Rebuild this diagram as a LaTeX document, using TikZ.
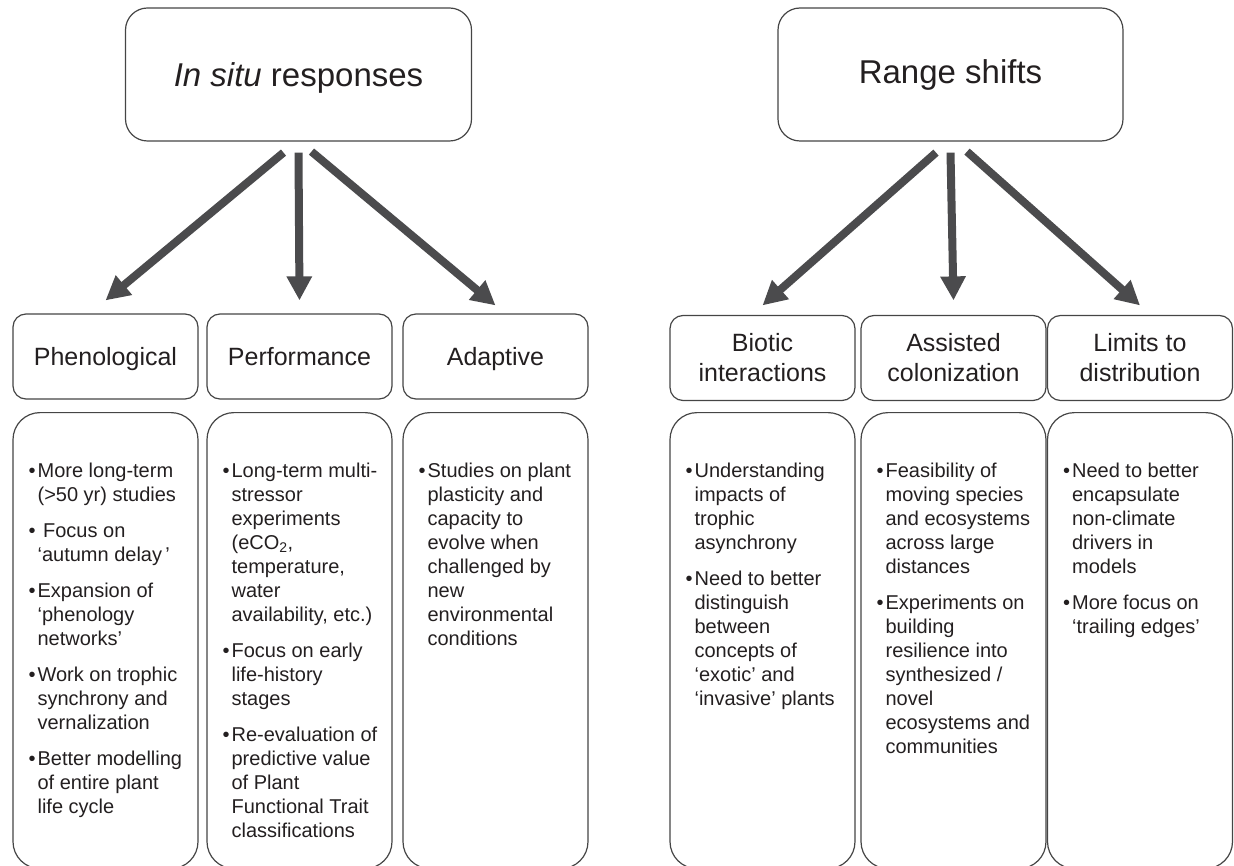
\documentclass[tikz,border=0pt]{standalone}
\usepackage{fontspec}
\setmainfont{Liberation Sans}
\usepackage{xcolor}
\usetikzlibrary{arrows.meta}

\definecolor{boxline}{HTML}{454545}
\definecolor{arrowgrey}{HTML}{4B4B4D}
\definecolor{textdark}{HTML}{231F20}

\newenvironment{bulletlist}{%
	\begin{list}{\textbullet}{%
		\setlength{\leftmargin}{9pt}\setlength{\labelwidth}{7pt}%
		\setlength{\labelsep}{2pt}\setlength{\itemsep}{12pt}%
		\setlength{\parsep}{0pt}\setlength{\topsep}{0pt}\setlength{\partopsep}{0pt}}}%
	{\end{list}}

\tikzset{
	headbox/.style={draw=boxline, line width=1.2pt, rounded corners=22pt, minimum width=346pt, minimum height=133pt, text height=23.6pt, text depth=0pt, text=textdark, font=\fontsize{33}{40}\selectfont},
	catbox/.style={draw=boxline, line width=1.2pt, rounded corners=13pt, minimum width=185pt, minimum height=85pt, align=center, text=textdark, font=\fontsize{25}{30}\selectfont},
	oneline/.style={text height=18pt, text depth=0pt},
	notebox/.style={draw=boxline, line width=1.2pt, rounded corners=27pt, minimum width=185pt, minimum height=456pt, anchor=north},
	notetext/.style={anchor=base west, inner sep=0pt, text=textdark, font=\fontsize{20}{24}\selectfont},
	bigarrow/.style={line width=8pt, draw=arrowgrey, -{Triangle[width=24pt,length=24pt]}}
}

\begin{document}
\begin{tikzpicture}[x=1pt,y=-1pt]
			\useasboundingbox (0,0) rectangle (1234,866);

			\node[headbox] (insitu) at (298.5,74.5) {\textit{In situ} responses};
			\node[headbox, minimum width=345pt] (range) at (950.5,74.5) {\raisebox{3pt}{Range shifts}};

			\node[catbox, oneline] (pheno) at (105.5,356.5) {Phenological};
			\node[catbox, oneline] (perf) at (299.5,356.5) {Performance};
			\node[catbox, oneline] (adapt) at (495.5,356.5) {Adaptive};
			\node[catbox] (biotic) at (762.5,358) {Biotic\\interactions};
			\node[catbox] (assist) at (953.5,358) {Assisted\\colonization};
			\node[catbox] (limits) at (1140,358) {Limits to\\distribution};

			\draw[bigarrow] ([xshift=-15pt,yshift=-11pt]insitu.south) -- ([yshift=13pt]pheno.north);
			\draw[bigarrow] ([yshift=-11pt]insitu.south) -- ([yshift=13pt]perf.north);
			\draw[bigarrow] ([xshift=13pt,yshift=-10pt]insitu.south) -- ([yshift=8pt]adapt.north);
			\draw[bigarrow] ([xshift=-14.5pt,yshift=-11pt]range.south) -- ([yshift=9.5pt]biotic.north);
			\draw[bigarrow] ([yshift=-11pt]range.south) -- ([yshift=14.5pt]assist.north);
			\draw[bigarrow] ([xshift=16.5pt,yshift=-10pt]range.south) -- ([yshift=9.5pt]limits.north);

			\node[notebox] (phenonotes) at (105.5,412) {};
			\node[notebox] (perfnotes) at (299.5,412) {};
			\node[notebox] (adaptnotes) at (495.5,412) {};
			\node[notebox] (bioticnotes) at (762.5,412) {};
			\node[notebox] (assistnotes) at (953.5,412) {};
			\node[notebox] (limitsnotes) at (1140,412) {};

			\node[notetext] (phenotext) at ([xshift=16pt,yshift=-65pt]phenonotes.north west)
			{
				\begin{minipage}[t]{175pt}
					\raggedright
					\begin{bulletlist}
						\item More long-term\newline (>50 yr) studies
						\item \ Focus on\newline ‘autumn delay\thinspace’
						\item Expansion of\newline ‘phenology\newline networks’
						\item Work on trophic\newline synchrony and\newline vernalization
						\item Better modelling\newline of entire plant\newline life cycle
					\end{bulletlist}
				\end{minipage}
			};
			\node[notetext] (perftext) at ([xshift=16pt,yshift=-65pt]perfnotes.north west)
			{
				\begin{minipage}[t]{175pt}
					\raggedright
					\begin{bulletlist}
						\item Long-term multi-\newline stressor\newline experiments\newline (eCO\textsubscript{2},\newline temperature,\newline water\newline availability, etc.)
						\item Focus on early\newline life-history\newline stages
						\item Re-evaluation of\newline predictive value\newline of Plant\newline Functional Trait\newline classifications
					\end{bulletlist}
				\end{minipage}
			};
			\node[notetext] (adapttext) at ([xshift=16pt,yshift=-65pt]adaptnotes.north west)
			{
				\begin{minipage}[t]{175pt}
					\raggedright
					\begin{bulletlist}
						\item Studies on plant\newline plasticity and\newline capacity to\newline evolve when\newline challenged by\newline new\newline environmental\newline conditions
					\end{bulletlist}
				\end{minipage}
			};
			\node[notetext] (biotictext) at ([xshift=16pt,yshift=-65pt]bioticnotes.north west)
			{
				\begin{minipage}[t]{175pt}
					\raggedright
					\begin{bulletlist}
						\item Understanding\newline impacts of\newline trophic\newline asynchrony
						\item Need to better\newline distinguish\newline between\newline concepts of\newline ‘exotic’ and\newline ‘invasive’ plants
					\end{bulletlist}
				\end{minipage}
			};
			\node[notetext] (assisttext) at ([xshift=16pt,yshift=-65pt]assistnotes.north west)
			{
				\begin{minipage}[t]{175pt}
					\raggedright
					\begin{bulletlist}
						\item Feasibility of\newline moving species\newline and ecosystems\newline across large\newline distances
						\item Experiments on\newline building\newline resilience into\newline synthesized /\newline novel\newline ecosystems and\newline communities
					\end{bulletlist}
				\end{minipage}
			};
			\node[notetext] (limitstext) at ([xshift=16pt,yshift=-65pt]limitsnotes.north west)
			{
				\begin{minipage}[t]{175pt}
					\raggedright
					\begin{bulletlist}
						\item Need to better\newline encapsulate\newline non-climate\newline drivers in\newline models
						\item More focus on\newline ‘trailing edges’
					\end{bulletlist}
				\end{minipage}
			};
		\end{tikzpicture}
\end{document}
